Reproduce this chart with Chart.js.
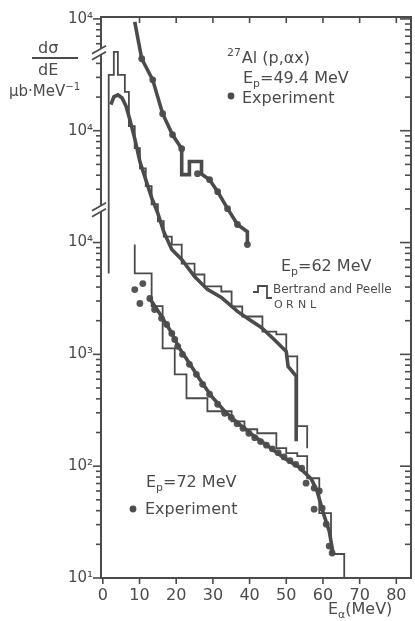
<!DOCTYPE html>
<html>
<head>
<meta charset="utf-8">
<script src="https://cdn.jsdelivr.net/npm/chart.js@4.4.1/dist/chart.umd.min.js"></script>
<style>
  html, body { margin: 0; padding: 0; background: #fff; }
  #wrap { width: 415px; height: 621px; position: relative; }
</style>
</head>
<body>
<div id="wrap"><canvas id="chart"></canvas></div>
<script>
// ================== DATA (dσ/dE in μb/MeV, E_α in MeV) ==================
// Ep = 49.4 MeV, calculation (thick stepped line) and experiment (dots)
const E_CALC_49  = [8.7, 10.6, 13.6, 16.3, 19.0, 21.5, 21.5, 23.6, 23.6, 26.9, 26.9, 29.1, 31.3, 34.0, 36.7, 39.4, 39.4];
const CS_CALC_49 = [9400, 4400, 2850, 1420, 920, 690, 405, 405, 530, 530, 410, 365, 285, 201, 145, 125, 96];
const E_EXP_49   = [10.6, 13.6, 16.3, 19.0, 21.5, 25.8, 29.1, 31.3, 34.0, 36.7, 39.4];
const CS_EXP_49  = [4400, 2850, 1420, 920, 690, 413, 365, 285, 201, 145, 96];

// Ep = 62 MeV, Bertrand and Peelle ORNL histogram (thin) and calculation (thick)
const E_BP_62    = [1.6, 1.6, 3.0, 4.1, 6.0, 7.1, 8.7, 10.1, 11.7, 13.3, 15.0, 16.6, 18.8, 21.5, 25.0, 27.7, 32.3, 35.1, 38.0, 43.5, 47.3, 50.0, 53.0, 55.7];
const CS_BP_62   = [529, 31600, 50700, 31600, 22300, 11000, 7000, 4600, 3200, 2200, 1550, 1130, 960, 649, 518, 405, 365, 268, 218, 160, 151, 96, 22.8, 14.5];
const E_CALC_62  = [2.2, 3.0, 4.1, 5.2, 6.3, 7.3, 8.7, 10.1, 11.7, 13.3, 15.0, 16.6, 18.8, 21.5, 25.0, 28.5, 32.3, 36.7, 39.9, 43.2, 46.7, 50.0, 50.5, 52.7, 52.7];
const CS_CALC_62 = [17100, 20100, 20900, 19700, 16700, 12800, 8490, 5290, 3650, 2520, 1820, 1250, 866, 705, 497, 381, 323, 242, 205, 174, 136, 106, 78, 64, 16.7];

// Ep = 72 MeV, histogram (thin), calculation (thick) and experiment (dots)
const E_BP_72    = [8.7, 8.7, 13.3, 16.3, 19.6, 22.8, 28.5, 35.1, 38.6, 42.1, 47.3, 50.0, 53.0, 55.7, 59.0, 62.2, 65.8];
const CS_BP_72   = [9600, 5290, 2700, 1130, 663, 405, 310, 252, 214, 197, 145, 131, 123, 78, 38, 16.4, 10];
const E_CALC_72  = [12.8, 15.5, 18.2, 20.9, 23.6, 26.4, 29.6, 33.2, 37.2, 41.3, 45.4, 49.5, 53.5, 56.8, 58.4, 60.1, 61.7, 62.8];
const CS_CALC_72 = [3160, 2320, 1670, 1130, 832, 598, 422, 310, 237, 185, 148, 118, 98, 77, 60, 38, 26.3, 16.4];
const E_EXP_72   = [8.7, 10.1, 10.9, 12.8, 14.1, 16.0, 17.4, 18.8, 19.6, 20.4, 21.7, 23.6, 25.5, 27.2, 29.1, 31.3, 33.2, 35.0, 36.6, 38.2,
                    39.8, 41.4, 43.0, 44.6, 46.2, 47.8, 49.4, 51.0, 52.6, 54.2, 55.4, 57.6, 57.6, 59.0, 59.8, 60.9, 61.7, 62.5];
const CS_EXP_72  = [3800, 2850, 4300, 3160, 2520, 2100, 1850, 1540, 1360, 1180, 1000, 815, 663, 540, 440, 358, 297, 272, 240, 218,
                    197, 180, 166, 154, 143, 132, 121, 112, 104, 96, 70.5, 63.7, 41.3, 60, 42.2, 30.3, 19.3, 16.7];

// Each upper spectrum is shifted up by whole decades (broken axis)
const OFFSET_62 = 10;
const OFFSET_49 = 100;

// Axis ticks and labels
const X_TICKS = [0, 10, 20, 30, 40, 50, 60, 70, 80];
const Y_LABELED = [10, 100, 1000, 1e4, 1e5, 1e6];
const Y_LABEL_TEXT = ['10¹', '10²', '10³', '10⁴', '10⁴', '10⁴'];
const Y_BREAKS = [2.05e4, 5.2e5];

// ================== STYLE ==================
const INK = '#4b4b4b';
const FONT = '"DejaVu Sans", "Liberation Sans", sans-serif';

const pts = (xs, ys, k = 1) => xs.map((x, i) => ({ x, y: ys[i] * k }));

function thick(data) {
    return { data, borderColor: INK, borderWidth: 3.6, pointRadius: 0, tension: 0, fill: false };
}
function thin(data) {
    // each value holds from its energy up to the next one
    return { data, borderColor: INK, borderWidth: 1.8, pointRadius: 0, stepped: 'before', fill: false };
}
function dots(data) {
    return { data, showLine: false, pointRadius: 3.4, pointBackgroundColor: '#555', pointBorderWidth: 0 };
}

// ================== DECORATION PLUGIN ==================
function rich(ctx, x, y, parts, size) {
    let cx = x;
    parts.forEach(p => {
        const small = p.sup || p.sub;
        const s = small ? size * 0.68 : size;
        const dy = p.sup ? -size * 0.42 : p.sub ? size * 0.28 : 0;
        ctx.font = `${s}px ${FONT}`;
        ctx.fillText(p.t, cx, y + dy);
        cx += ctx.measureText(p.t).width + (p.gap || 0);
    });
}

const decor = {
    id: 'decor',
    afterDatasetsDraw(chart) {
        const { ctx, chartArea: a, scales: { x, y } } = chart;
        const line = (x1, y1, x2, y2) => { ctx.beginPath(); ctx.moveTo(x1, y1); ctx.lineTo(x2, y2); ctx.stroke(); };
        ctx.save();
        ctx.strokeStyle = INK;
        ctx.fillStyle = INK;

        // frame
        ctx.lineWidth = 2;
        ctx.strokeRect(a.left, a.top, a.right - a.left, a.bottom - a.top);

        // y ticks: outside on the left, inside on the right
        ctx.lineWidth = 1.6;
        y.ticks.forEach(t => {
            const py = y.getPixelForValue(t.value);
            const major = Y_LABELED.includes(t.value);
            line(a.left - (major ? 8 : 5), py, a.left, py);
            line(a.right - (major ? 11 : 6), py, a.right, py);
        });
        // x ticks: outside at the bottom, inside at the top
        X_TICKS.forEach(v => {
            const px = x.getPixelForValue(v);
            line(px, a.bottom, px, a.bottom + 6);
            if (v > 0) line(px, a.top, px, a.top + 6);
        });

        // axis breaks
        Y_BREAKS.forEach(v => {
            const py = y.getPixelForValue(v);
            ctx.fillStyle = '#fff';
            ctx.beginPath();
            ctx.moveTo(a.left - 8, py + 3); ctx.lineTo(a.left + 4, py - 4);
            ctx.lineTo(a.left + 4, py + 2); ctx.lineTo(a.left - 8, py + 9);
            ctx.closePath(); ctx.fill();
            ctx.lineWidth = 1.8;
            line(a.left - 9, py + 3, a.left + 5, py - 5);
            line(a.left - 9, py + 9, a.left + 5, py + 1);
        });
        ctx.fillStyle = INK;

        // y-axis title
        ctx.textBaseline = 'alphabetic';
        ctx.textAlign = 'left';
        rich(ctx, 38, 53, [{ t: 'dσ' }], 16);
        ctx.lineWidth = 2;
        line(32, 58, 78, 58);
        rich(ctx, 38, 75, [{ t: 'dE' }], 16);
        rich(ctx, 9, 96, [{ t: 'μb·MeV' }, { t: '−1', sup: true }], 15);

        // annotations
        rich(ctx, 227, 63, [{ t: '27', sup: true, gap: 1 }, { t: 'Al (p,αx)' }], 16);
        rich(ctx, 243, 83, [{ t: 'E' }, { t: 'p', sub: true }, { t: '=49.4 MeV' }], 16);
        ctx.beginPath(); ctx.arc(231, 96, 3.4, 0, Math.PI * 2); ctx.fill();
        rich(ctx, 242, 103, [{ t: 'Experiment' }], 16);

        rich(ctx, 281, 271, [{ t: 'E' }, { t: 'p', sub: true }, { t: '=62 MeV' }], 16);
        ctx.lineWidth = 1.8;
        ctx.beginPath();
        ctx.moveTo(253, 292); ctx.lineTo(258, 292); ctx.lineTo(258, 286);
        ctx.lineTo(267, 286); ctx.lineTo(267, 298); ctx.lineTo(272, 298);
        ctx.stroke();
        rich(ctx, 273, 293, [{ t: 'Bertrand and Peelle' }], 12);
        ctx.font = `11px ${FONT}`;
        ['O', 'R', 'N', 'L'].forEach((c, i) => ctx.fillText(c, 274 + i * 12, 308));

        rich(ctx, 146, 487, [{ t: 'E' }, { t: 'p', sub: true }, { t: '=72 MeV' }], 16);
        ctx.beginPath(); ctx.arc(133, 509, 3.4, 0, Math.PI * 2); ctx.fill();
        rich(ctx, 145, 514, [{ t: 'Experiment' }], 16);

        // x-axis title
        rich(ctx, 328, 614, [{ t: 'E' }, { t: 'α', sub: true }, { t: '(MeV)' }], 16);
        ctx.restore();
    }
};

// ================== CHART ==================
document.addEventListener('DOMContentLoaded', () => {
    const ctx = document.getElementById('chart').getContext('2d');
    new Chart(ctx, {
        type: 'line',
        data: {
            datasets: [
                thick(pts(E_CALC_49, CS_CALC_49, OFFSET_49)),
                dots(pts(E_EXP_49, CS_EXP_49, OFFSET_49)),
                thin(pts(E_BP_62, CS_BP_62, OFFSET_62)),
                thick(pts(E_CALC_62, CS_CALC_62, OFFSET_62)),
                thin(pts(E_BP_72, CS_BP_72)),
                thick(pts(E_CALC_72, CS_CALC_72)),
                dots(pts(E_EXP_72, CS_EXP_72))
            ]
        },
        options: {
            responsive: true,
            maintainAspectRatio: false,
            animation: false,
            layout: { padding: { top: 16, right: 3, left: 0, bottom: 0 } },
            plugins: { legend: { display: false }, tooltip: { enabled: false } },
            scales: {
                x: {
                    type: 'linear',
                    min: -0.5,
                    max: 84,
                    grid: { display: true, drawOnChartArea: false, drawTicks: false },
                    border: { display: false },
                    afterBuildTicks: s => { s.ticks = X_TICKS.map(v => ({ value: v })); },
                    afterFit: s => { s.height = 43; },
                    ticks: { autoSkip: false, maxRotation: 0, padding: 8, color: INK, font: { family: FONT, size: 16 } }
                },
                y: {
                    type: 'logarithmic',
                    min: 10,
                    max: 1.04e6,
                    grid: { display: true, drawOnChartArea: false, drawTicks: false },
                    border: { display: false },
                    afterBuildTicks: s => {
                        const t = [];
                        for (let e = 1; e <= 6; e++) {
                            for (let k = 1; k <= 9; k++) {
                                const v = k * Math.pow(10, e);
                                if (v <= s.max) t.push({ value: v });
                            }
                        }
                        s.ticks = t;
                    },
                    afterFit: s => { s.width = 101; },
                    ticks: {
                        autoSkip: false,
                        padding: 8,
                        color: INK,
                        font: { family: FONT, size: 15 },
                        callback: v => {
                            const i = Y_LABELED.indexOf(v);
                            return i >= 0 ? Y_LABEL_TEXT[i] : '';
                        }
                    }
                }
            }
        },
        plugins: [decor]
    });
});
</script>
</body>
</html>
